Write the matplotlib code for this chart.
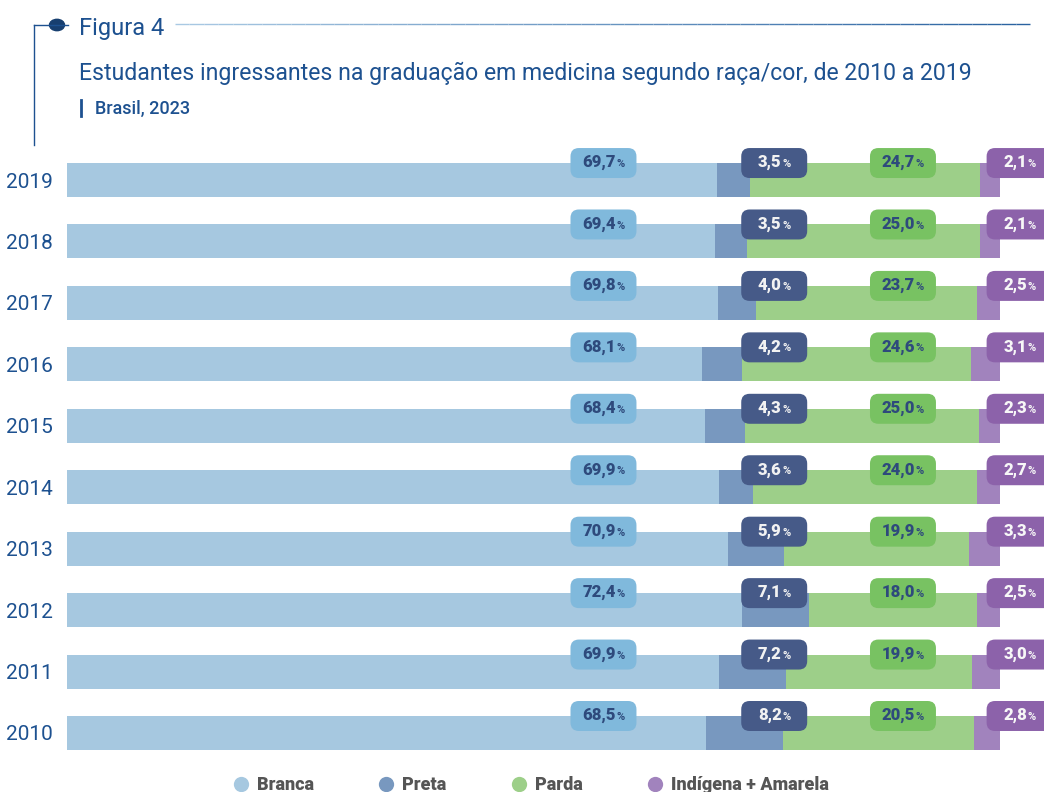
import matplotlib
matplotlib.use("Agg")
import matplotlib.pyplot as plt
import numpy as np
from matplotlib.patches import FancyBboxPatch, Circle
from matplotlib.lines import Line2D
from matplotlib.collections import LineCollection
from matplotlib.offsetbox import TextArea, HPacker, AnnotationBbox

plt.rcParams['font.family'] = ['Roboto', 'DejaVu Sans']

# ======= Dados =======
anos = ['2019', '2018', '2017', '2016', '2015', '2014', '2013', '2012', '2011', '2010']
branca = [69.7, 69.4, 69.8, 68.1, 68.4, 69.9, 70.9, 72.4, 69.9, 68.5]
preta = [3.5, 3.5, 4.0, 4.2, 4.3, 3.6, 5.9, 7.1, 7.2, 8.2]
parda = [24.7, 25.0, 23.7, 24.6, 25.0, 24.0, 19.9, 18.0, 19.9, 20.5]
indigena_amarela = [2.1, 2.1, 2.5, 3.1, 2.3, 2.7, 3.3, 2.5, 3.0, 2.8]
categorias = ['Branca', 'Preta', 'Parda', 'Indígena + Amarela']

# ======= Estilo =======
azul_texto = '#1d5190'
cor_barra = ['#a6c8e0', '#7898bf', '#9dcf89', '#a183bd']
cor_etiqueta = ['#80b9dc', '#465a88', '#78c262', '#8c62aa']
cor_num = ['#2e4a7c', '#f2f2f2', '#2e4a7c', '#f7f7f7']
x_etiqueta = [57.5, 75.8, 89.6, 102.1]   # centro das etiquetas (em %)

W, H = 1044, 792
fig = plt.figure(figsize=(W / 100, H / 100), dpi=100, facecolor='white')


def fx(p):
    return p / W


def fy(p):
    return 1 - p / H


# ======= Cabeçalho =======
fig.add_artist(Line2D([fx(34), fx(34)], [fy(25), fy(145)], color=azul_texto, lw=1.0))
fig.add_artist(Line2D([fx(34), fx(68)], [fy(25), fy(25)], color=azul_texto, lw=1.0))
fig.add_artist(Circle((fx(57), fy(25)), radius=7.5 / W, color='#173f70',
                      transform=fig.transFigure))
# linha em degradê à direita do título
xs = np.linspace(fx(175), fx(1030), 60)
segs = [[(xs[i], fy(24)), (xs[i + 1], fy(24))] for i in range(len(xs) - 1)]
c0 = np.array(matplotlib.colors.to_rgb('#a9c9e3'))
c1 = np.array(matplotlib.colors.to_rgb('#2a62a0'))
cores = [c0 + (c1 - c0) * t for t in np.linspace(0, 1, len(segs))]
fig.add_artist(LineCollection(segs, colors=cores, lw=1.0, transform=fig.transFigure))

fig.text(fx(79), fy(35), 'Figura 4', fontsize=17, color=azul_texto, va='baseline')
fig.text(fx(79), fy(80), 'Estudantes ingressantes na graduação em medicina segundo raça/cor, de 2010 a 2019',
         fontsize=16.6, color=azul_texto, va='baseline')
fig.add_artist(Line2D([fx(81), fx(81)], [fy(100), fy(116)], color=azul_texto, lw=2.0))
fig.text(fx(95), fy(114), 'Brasil, 2023', fontsize=13, color=azul_texto, va='baseline',
         weight='medium')

# ======= Barras empilhadas =======
ax = fig.add_axes([fx(67), 1 - 763.7 / H, 933 / W, 614.4 / H])
series = [branca, preta, parda, indigena_amarela]
y = np.arange(len(anos))
altura = 0.553
esquerda = np.zeros(len(anos))
for k, valores in enumerate(series):
    ax.barh(y, valores, left=esquerda, height=altura, color=cor_barra[k], linewidth=0)
    esquerda += np.array(valores)

ax.set_xlim(0, 100)
ax.set_ylim(9.5, -0.5)
ax.set_yticks(y)
ax.set_yticklabels(anos, fontsize=15, color=azul_texto)
ax.tick_params(left=False, bottom=False, labelbottom=False, pad=7)
for s in ax.spines.values():
    s.set_visible(False)

# ======= Etiquetas de valor =======
larg, alt = 7.07, 0.488
aspecto = (10 / 614.4) / (100 / 933)
for i in range(len(anos)):
    cy = i - altura / 2
    for k, valores in enumerate(series):
        cx = x_etiqueta[k]
        caixa = FancyBboxPatch((cx - larg / 2, cy - alt / 2), larg, alt,
                               boxstyle='round,pad=0,rounding_size=0.9',
                               mutation_aspect=aspecto, facecolor=cor_etiqueta[k],
                               edgecolor='none', clip_on=False, zorder=3)
        ax.add_patch(caixa)
        num = f'{valores[i]:.1f}'.replace('.', ',')
        t1 = TextArea(num, textprops=dict(fontsize=12, weight='heavy', color=cor_num[k]))
        t2 = TextArea('%', textprops=dict(fontsize=8, weight='bold', color=cor_num[k]))
        pacote = HPacker(children=[t1, t2], align='baseline', pad=0, sep=0.5)
        ab = AnnotationBbox(pacote, (cx, cy), frameon=False, box_alignment=(0.5, 0.45),
                            annotation_clip=False, zorder=4)
        ax.add_artist(ab)

# ======= Legenda =======
alcas = [Line2D([], [], marker='o', linestyle='none', markersize=11,
                markerfacecolor=c, markeredgecolor='none') for c in cor_barra]
leg = fig.legend(alcas, categorias, loc='center', bbox_to_anchor=(0.508, fy(785)), ncol=4,
                 frameon=False, handlelength=1.0, handletextpad=0.4, columnspacing=3.5,
                 prop=dict(size=13, weight='heavy'))
for t in leg.get_texts():
    t.set_color('#555555')

fig.savefig('out.png', dpi=100, facecolor='white')
